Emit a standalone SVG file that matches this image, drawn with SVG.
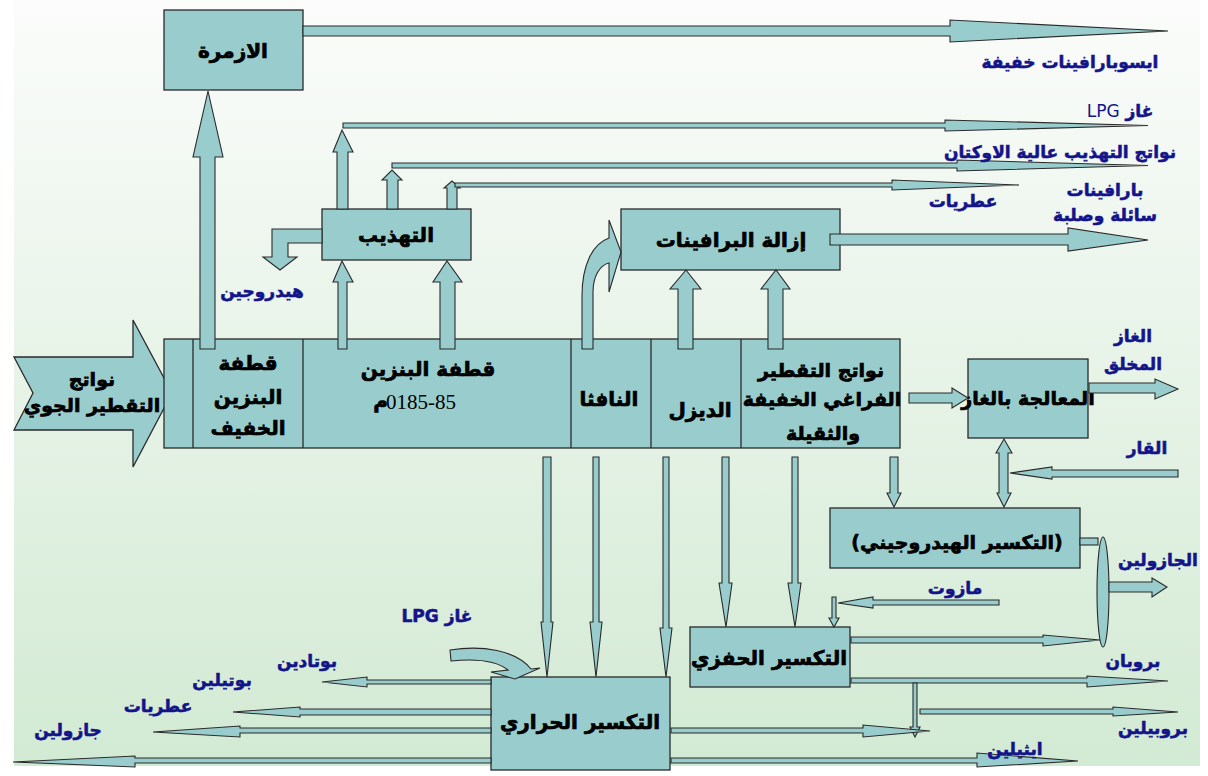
<svg xmlns="http://www.w3.org/2000/svg" width="1208" height="776" viewBox="0 0 1208 776">
<defs>
<linearGradient id="bg" x1="0" y1="0" x2="0" y2="1">
<stop offset="0" stop-color="#fbfcfb"/>
<stop offset="1" stop-color="#d2ead3"/>
</linearGradient>
<style>
.n{fill:#99cccc;stroke:#2a2a2a;stroke-width:1.3}
.c{fill:#99cccc;stroke:#2a2a2a;stroke-width:1.1;stroke-linejoin:miter}
.t{font-family:"DejaVu Sans",sans-serif;font-weight:bold;fill:#000;stroke:#000;stroke-width:0.7;text-anchor:middle;direction:rtl}
.nt{font-size:20px}
.l{font-family:"DejaVu Sans",sans-serif;font-weight:bold;fill:#14148a;stroke:#14148a;stroke-width:0.55;text-anchor:middle;direction:rtl;font-size:17px}
</style>
</defs>
<rect x="0" y="0" width="1208" height="776" fill="#ffffff"/>
<rect x="14" y="0" width="1186" height="766" fill="url(#bg)"/>

<g id="node-azmara">
<rect class="n" x="164" y="10" width="139" height="80"/>
<text class="t nt" x="233" y="58">الازمرة</text>
</g>
<g id="node-tahdhib">
<rect class="n" x="322" y="209" width="149" height="51"/>
<text class="t nt" x="396" y="242">التهذيب</text>
</g>
<g id="node-dewax">
<rect class="n" x="621" y="209" width="219" height="61"/>
<text class="t nt" x="731" y="247">إزالة البرافينات</text>
</g>
<g id="node-feed">
<polygon class="n" points="14,357 133,357 133,320 172,393 133,467 133,430 14,430 33,393"/>
<text class="t" font-size="19" x="92" y="386">نواتج</text>
<text class="t" font-size="19" x="92" y="412">التقطير الجوي</text>
</g>
<g id="node-main">
<rect class="n" x="164" y="339" width="736" height="109"/>
<line class="n" x1="193" y1="339" x2="193" y2="448"/>
<line class="n" x1="303" y1="339" x2="303" y2="448"/>
<line class="n" x1="571" y1="339" x2="571" y2="448"/>
<line class="n" x1="651" y1="339" x2="651" y2="448"/>
<line class="n" x1="741" y1="339" x2="741" y2="448"/>
<text class="t" font-size="20" x="248" y="370">قطفة</text>
<text class="t" font-size="20" x="248" y="404">البنزين</text>
<text class="t" font-size="20" x="248" y="435">الخفيف</text>
<text class="t" font-size="20" x="428" y="376">قطفة البنزين</text>
<text font-family="DejaVu Sans,sans-serif" font-weight="bold" stroke="#000" stroke-width="0.7" font-size="20" x="388" y="408" text-anchor="end">م</text>
<text font-family="Liberation Serif,serif" font-size="21" x="386" y="409">0185-85</text>
<text class="t" font-size="20" x="609" y="406">النافثا</text>
<text class="t" font-size="20" x="700" y="417">الديزل</text>
<text class="t" font-size="19" x="821" y="377">نواتج التقطير</text>
<text class="t" font-size="19" x="822" y="406">الفراغي الخفيفة</text>
<text class="t" font-size="19" x="823" y="440">والثقيلة</text>
</g>
<g id="node-gas">
<rect class="n" x="968" y="359" width="120" height="79"/>
<text class="t" font-size="19" x="1028" y="405">المعالجة بالغاز</text>
</g>
<g id="node-hydrocrack">
<rect class="n" x="830" y="508" width="250" height="60"/>
<text class="t" font-size="19" x="957" y="549">(التكسير الهيدروجيني)</text>
</g>
<g id="node-catcrack">
<rect class="n" x="690" y="627" width="160" height="60"/>
<text class="t nt" x="769" y="665">التكسير الحفزي</text>
</g>
<g id="node-thermal">
<rect class="n" x="491" y="677" width="179" height="93"/>
<text class="t nt" x="580" y="729">التكسير الحراري</text>
</g>

<g id="connectors">
<polygon class="c" points="303,26 950,26 950,20 1168,31 950,42 950,36 303,36"/>
<polygon class="c" points="200,349 200,157 193,157 208,91 223,157 215,157 215,349"/>
<polygon class="c" points="338,349 338,282 333,282 342,261 353,282 347,282 347,349"/>
<polygon class="c" points="440,349 440,282 433,282 447,261 462,282 455,282 455,349"/>
<polygon class="c" points="337,209 337,152 333,152 342,130 353,152 348,152 348,209"/>
<polygon class="c" points="343,123 945,123 945,120 1148,125.5 945,131 945,128 343,128"/>
<polygon class="c" points="387,209 387,180 382,180 392,170 402,180 398,180 398,209"/>
<polygon class="c" points="392,163 957,163 957,160 1148,165.5 957,171 957,168 392,168"/>
<polygon class="c" points="447,209 447,188 444,188 452,181 460,188 457,188 457,209"/>
<polygon class="c" points="455,183 892,183 892,180 1019,185 892,190 892,187 455,187"/>
<polygon class="c" points="322,229 272,229 272,257 263,257 280,270 297,257 288,257 288,243 322,243"/>
<path class="c" d="M582,349 L582,296 C582,266 592,244 609,238 L609,220 L621,252 L609,292 L609,263 C600,265 593,276 593,292 L593,349 Z"/>
<polygon class="c" points="678,349 678,289 670,289 686,270 701,289 693,289 693,349"/>
<polygon class="c" points="768,349 768,289 761,289 776,270 790,289 783,289 783,349"/>
<polygon class="c" points="830,234 1068,234 1068,228 1148,240 1068,251 1068,245 830,245"/>
<polygon class="c" points="909,393 952,393 952,388 968,398 952,408 952,403 909,403"/>
<polygon class="c" points="1089,383 1155,383 1155,379 1178,389 1155,399 1155,393 1089,393"/>
<polygon class="c" points="1178,470 1052,470 1052,467 1010,473 1052,479 1052,477 1178,477"/>
<polygon class="c" points="999,453 996,453 1004,439 1012,453 1008,453 1008,493 1011,493 1004,507 997,493 999,493"/>
<polygon class="c" points="890,457 898,457 898,493 901,493 894,507 887,493 890,493"/>
<polygon class="c" points="543,457 551,457 551,622 553,622 547,677 541,622 543,622"/>
<polygon class="c" points="593,457 599,457 599,622 602,622 596,677 590,622 593,622"/>
<polygon class="c" points="663,457 669,457 669,628 672,628 666,677 660,628 663,628"/>
<polygon class="c" points="722,457 729,457 729,583 732,583 726,627 719,583 722,583"/>
<polygon class="c" points="792,457 798,457 798,583 801,583 795,627 788,583 792,583"/>
<polygon class="c" points="999,600 873,600 873,597 838,603 873,608 873,605 999,605"/>
<polygon class="c" points="832,597 836,597 836,618 839,618 834,627 829,618 832,618"/>
<rect class="c" x="1080" y="538" width="18" height="7"/>
<ellipse class="c" cx="1103" cy="592" rx="6" ry="55"/>
<polygon class="c" points="1109,582 1152,582 1152,578 1167,587 1152,597 1152,592 1109,592"/>
<polygon class="c" points="851,637 1043,637 1043,635 1100,640 1043,646 1043,643 851,643"/>
<polygon class="c" points="851,678 1087,678 1087,676 1168,681 1087,687 1087,683 851,683"/>
<polygon class="c" points="913,683 917,683 917,727 920,727 915,737 910,727 913,727"/>
<polygon class="c" points="920,709 1113,709 1113,707 1178,712 1113,716 1113,714 920,714"/>
<polygon class="c" points="671,728 863,728 863,725 930,731 863,737 863,733 671,733"/>
<polygon class="c" points="671,758 977,758 977,753 1078,761 977,767 977,763 671,763"/>
<polygon class="c" points="491,680 367,680 367,677 322,682 367,687 367,684 491,684"/>
<polygon class="c" points="491,709 300,709 300,707 233,712 300,717 300,715 491,715"/>
<polygon class="c" points="491,728 240,728 240,726 153,732 240,737 240,733 491,733"/>
<polygon class="c" points="491,758 135,758 135,756 13,762 135,767 135,763 491,763"/>
<path class="c" d="M450,650 C482,645 516,650 531,669 L540,668 L515,679 L491,672 L508,670 C498,662 480,658 451,661 Z"/>
</g>

<g id="labels">
<text class="l" x="1070" y="68">ايسوبارافينات خفيفة</text>
<text class="l" x="1120" y="117">غاز <tspan font-weight="normal" stroke-width="0">LPG</tspan></text>
<text class="l" x="1060" y="158">نواتج التهذيب عالية الاوكتان</text>
<text class="l" x="963" y="207">عطريات</text>
<text class="l" x="1105" y="196">بارافينات</text>
<text class="l" x="1105" y="221">سائلة وصلبة</text>
<text class="l" x="262" y="297">هيدروجين</text>
<text class="l" x="1133" y="342">الغاز</text>
<text class="l" x="1133" y="370">المخلق</text>
<text class="l" x="1147" y="454">القار</text>
<text class="l" x="1158" y="566">الجازولين</text>
<text class="l" x="955" y="594">مازوت</text>
<text class="l" x="1133" y="667">بروبان</text>
<text class="l" x="1153" y="734">بروبيلين</text>
<text class="l" x="1015" y="755">ايثيلين</text>
<text class="l" x="307" y="667">بوتادين</text>
<text class="l" x="222" y="686">بوتيلين</text>
<text class="l" x="158" y="712">عطريات</text>
<text class="l" x="68" y="736">جازولين</text>
<text class="l" x="437" y="622">غاز LPG</text>
</g>
</svg>
